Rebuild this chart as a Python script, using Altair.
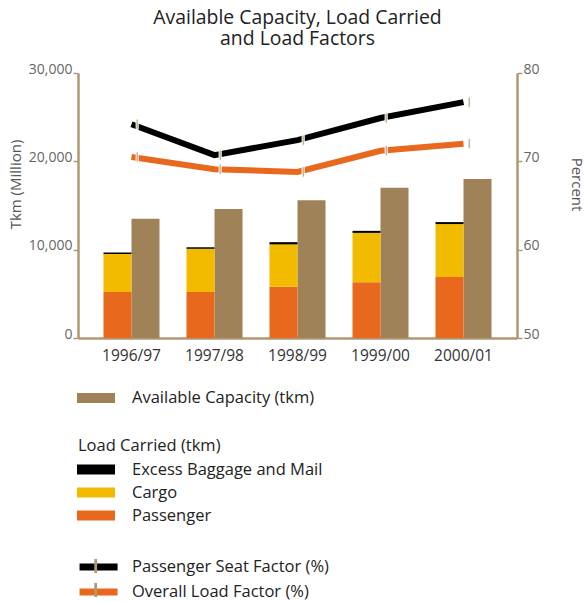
import altair as alt
import pandas as pd

years = ["1996/97", "1997/98", "1998/99", "1999/00", "2000/01"]
capacity = [13500, 14600, 15600, 17000, 18000]
passenger = [5200, 5200, 5800, 6300, 6900]
cargo = [4300, 4900, 4800, 5600, 6000]
excess = [170, 170, 250, 230, 220]
seat_factor = [74.2, 70.7, 72.4, 74.9, 76.7]
load_factor = [70.5, 69.1, 68.8, 71.2, 72.0]

CAP = "Available Capacity (tkm)"
LOAD_COMPS = ["Excess Baggage and Mail", "Cargo", "Passenger"]
SERIES = ["Passenger Seat Factor (%)", "Overall Load Factor (%)"]

rows = []
for i, yr in enumerate(years):
    rows.append(dict(year=yr, grp="Capacity", comp=CAP, value=capacity[i], ord=0))
    rows.append(dict(year=yr, grp="Load", comp="Passenger", value=passenger[i], ord=0))
    rows.append(dict(year=yr, grp="Load", comp="Cargo", value=cargo[i], ord=1))
    rows.append(dict(year=yr, grp="Load", comp="Excess Baggage and Mail", value=excess[i], ord=2))
df_bars = pd.DataFrame(rows)

lrows = []
for i, yr in enumerate(years):
    lrows.append(dict(year=yr, series=SERIES[0], marker=SERIES[0], value=seat_factor[i]))
    lrows.append(dict(year=yr, series=SERIES[1], marker=SERIES[1], value=load_factor[i]))
df_lines = pd.DataFrame(lrows)

FONT = "Open Sans"
TAN = "#B09873"
BROWN = "#9F8258"
ORANGE = "#E8691D"
YELLOW = "#F2BB00"
BLACK = "#000000"

RECT = "M-1.2,-0.5H2.6V0.5H-1.2Z"
LINE_SYM = "M-1.3,0H4.55"
TICK_SYM = "M0.66,-0.74H0.96V0.74H0.66Z"
TICK_MARK = "M-0.2,-1H0.2V1H-0.2Z"

x = alt.X("year:N", sort=years,
          scale=alt.Scale(paddingInner=0.325, paddingOuter=0.307),
          axis=alt.Axis(title=None, labelAngle=0, ticks=False, labelPadding=10,
                        labelFontSize=15.5, labelColor="#333", labelFont=FONT,
                        domainColor=TAN, domainWidth=2.5))
xoff = alt.XOffset("grp:N", sort=["Load", "Capacity"],
                   scale=alt.Scale(domain=["Load", "Capacity"], paddingInner=0, paddingOuter=0))

yb = alt.Y("value:Q", stack="zero",
           scale=alt.Scale(domain=[0, 30000], nice=False),
           axis=alt.Axis(title="Tkm (Million)", values=[0, 10000, 20000, 30000],
                         labelExpr="format(datum.value, ',')",
                         grid=False, tickSize=5, tickColor=TAN, tickWidth=1.5,
                         domainColor=TAN, domainWidth=2.5, labelPadding=1,
                         labelBaseline="alphabetic", labelFontSize=14, labelColor="#666",
                         labelFont=FONT, titleFont=FONT, titleFontSize=15,
                         titleFontWeight="normal", titleColor="#555",
                         titleX=-55, titleY=111))

yl = alt.Y("value:Q",
           scale=alt.Scale(domain=[50, 80], nice=False, zero=False),
           axis=alt.Axis(title="Percent", values=[50, 60, 70, 80], orient="right",
                         grid=False, tickSize=5, tickColor=TAN, tickWidth=1.5,
                         domainColor=TAN, domainWidth=2.5, labelPadding=1,
                         labelBaseline="alphabetic", labelFontSize=14, labelColor="#666",
                         labelFont=FONT, titleFont=FONT, titleFontSize=15,
                         titleFontWeight="normal", titleColor="#555",
                         titleX=51, titleY=111))

def legend(**kw):
    base = dict(orient="none", legendX=0, symbolSize=400, labelFontSize=16.5,
                labelFont=FONT, labelColor="#222", labelOffset=32, rowPadding=3,
                padding=0, labelLimit=300)
    base.update(kw)
    return alt.Legend(**base)

cap = alt.Chart(df_bars).transform_filter(alt.datum.grp == "Capacity").mark_bar().encode(
    x=x, xOffset=xoff, y=yb,
    color=alt.Color("comp:N", scale=alt.Scale(domain=[CAP], range=[BROWN]),
                    legend=legend(title=None, legendY=314, symbolType=RECT)))

load = alt.Chart(df_bars).transform_filter(alt.datum.grp == "Load").mark_bar().encode(
    x=x, xOffset=xoff, y=yb,
    color=alt.Color("comp:N", scale=alt.Scale(domain=LOAD_COMPS, range=[BLACK, YELLOW, ORANGE]),
                    legend=legend(title="Load Carried (tkm)", legendY=365, symbolType=RECT,
                                  titleFont=FONT, titleFontSize=16.5, titleFontWeight="normal",
                                  titleColor="#222", titlePadding=4)),
    order=alt.Order("ord:Q"))

bars = alt.layer(cap, load).resolve_scale(color="independent")

line = alt.Chart(df_lines).mark_line(strokeCap="butt", strokeJoin="miter", strokeWidth=6).encode(
    x=x, y=yl,
    color=alt.Color("series:N", scale=alt.Scale(domain=SERIES, range=[BLACK, ORANGE]),
                    legend=legend(title=None, legendY=484, symbolType=LINE_SYM,
                                  symbolSize=169, symbolStrokeWidth=7, rowPadding=-3,
                                  labelOffset=34)))

ticks = alt.Chart(df_lines).mark_point(shape=TICK_MARK, filled=True, fill=TAN, stroke="white",
                                       strokeWidth=1, size=196, opacity=1).encode(
    x=x, y=yl,
    shape=alt.Shape("marker:N", scale=alt.Scale(domain=SERIES, range=[TICK_SYM, TICK_SYM]),
                    legend=legend(title=None, legendY=483, symbolSize=361, rowPadding=4,
                                  symbolFillColor=TAN, symbolStrokeColor="white",
                                  symbolStrokeWidth=1, labelExpr="''")))

lines = alt.layer(line, ticks).resolve_scale(shape="independent")

chart = alt.layer(bars, lines).resolve_scale(y="independent", color="independent").properties(
    width=439, height=265,
    title=alt.TitleParams(["Available Capacity, Load Carried", "and Load Factors"],
                          fontSize=19.4, font=FONT, fontWeight="normal", color="#222",
                          offset=13, lineHeight=21, anchor="middle"),
    autosize=alt.AutoSizeParams(type="none"),
    padding={"left": 78, "top": 73, "right": 69, "bottom": 264},
).configure_view(stroke=None)

chart.save("out.html", embed_options={"renderer": "svg", "actions": False})
